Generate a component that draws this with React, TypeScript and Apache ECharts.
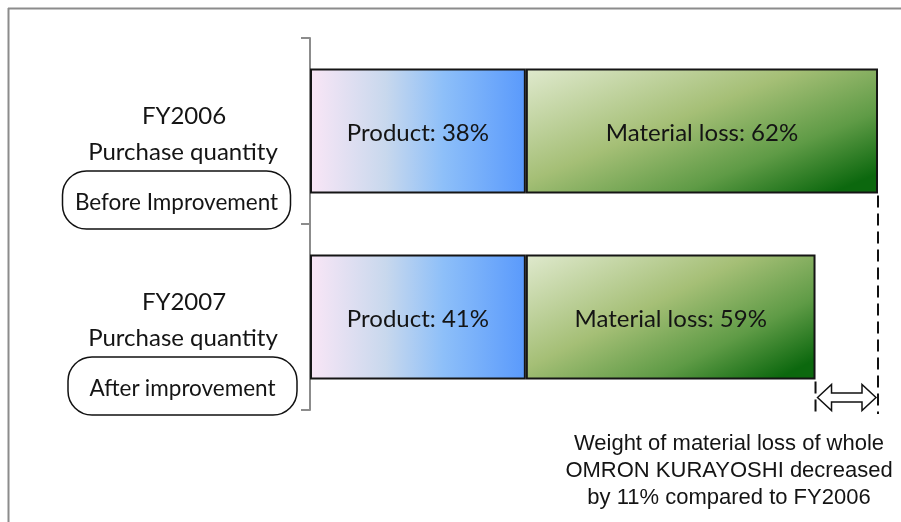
import React, { useEffect, useRef } from "react";
import * as echarts from "echarts";

const categories = ["FY2006", "FY2007"];
const subtitles = ["Purchase quantity", "Purchase quantity"];
const boxLabels = ["Before Improvement", "After improvement"];
// bar lengths as drawn (FY2006 total = 100)
const productValues = [38, 38];
const lossValues = [62, 51];
// shares printed in the bars
const productShare = [38, 41];
const lossShare = [62, 59];
const noteLines = [
  "Weight of material loss of whole",
  "OMRON KURAYOSHI decreased",
  "by 11% compared to FY2006",
];

const FONT = "Lato";
const TXT = "#141414";

export default function App() {
  const ref = useRef<HTMLDivElement>(null);
  useEffect(() => {
    if (!ref.current) return;
    const chart = echarts.init(ref.current, undefined, { renderer: "svg" });
    const productGrad = new echarts.graphic.LinearGradient(0, 0, 1, 0, [
      { offset: 0, color: "#f9e6f6" },
      { offset: 0.35, color: "#c8d8ed" },
      { offset: 0.62, color: "#8dbff9" },
      { offset: 1, color: "#5a9afc" },
    ]);
    const lossGrad = new echarts.graphic.LinearGradient(0, 0, 1, 0.85, [
      { offset: 0, color: "#dfe9cd" },
      { offset: 0.45, color: "#a5bf76" },
      { offset: 0.75, color: "#5f9b46" },
      { offset: 1, color: "#0c680e" },
    ]);
    chart.setOption({
      animation: false,
      grid: { left: 310, right: 23, top: 38, bottom: 112 },
      xAxis: { type: "value", min: 0, max: 100, show: false },
      yAxis: {
        type: "category",
        data: categories,
        inverse: true,
        axisLine: { lineStyle: { color: "#8c8c8c", width: 2 } },
        axisTick: { show: true, length: 9, lineStyle: { color: "#8c8c8c", width: 2 } },
        axisLabel: { show: false },
        splitLine: { show: false },
      },
      series: [
        {
          name: "Product",
          type: "bar",
          stack: "t",
          barWidth: 125,
          data: productValues,
          itemStyle: { color: productGrad, borderColor: "#151515", borderWidth: 2 },
          label: {
            show: true,
            position: "inside",
            fontFamily: FONT,
            fontSize: 24,
            color: TXT,
            formatter: (p: any) => `Product: ${productShare[p.dataIndex]}%`,
          },
        },
        {
          name: "Material loss",
          type: "bar",
          stack: "t",
          barWidth: 125,
          data: lossValues,
          itemStyle: { color: lossGrad, borderColor: "#151515", borderWidth: 2 },
          label: {
            show: true,
            position: "inside",
            fontFamily: FONT,
            fontSize: 24,
            color: TXT,
            formatter: (p: any) => `Material loss: ${lossShare[p.dataIndex]}%`,
          },
        },
      ],
    });

    const half = 62.5;
    const elements: any[] = [];
    // frame
    elements.push({ type: "line", shape: { x1: 8, y1: 8.5, x2: 901, y2: 8.5 }, style: { stroke: "#8c8c8c", lineWidth: 2 } });
    elements.push({ type: "line", shape: { x1: 8.5, y1: 8, x2: 8.5, y2: 522 }, style: { stroke: "#8c8c8c", lineWidth: 2 } });

    const boxX = [62.5, 68];
    const boxW = [228, 229];
    categories.forEach((c, i) => {
      const [, cy] = chart.convertToPixel({ gridIndex: 0 }, [0, c]) as number[];
      elements.push({
        type: "text",
        x: 184, y: cy - 17,
        style: { text: c, fontFamily: FONT, fontSize: 24, fill: TXT, align: "center", verticalAlign: "middle" },
      });
      elements.push({
        type: "text",
        x: 183, y: cy + 19,
        style: { text: subtitles[i], fontFamily: FONT, fontSize: 24, fill: TXT, align: "center", verticalAlign: "middle" },
      });
      elements.push({
        type: "rect",
        shape: { x: boxX[i], y: cy + 40, width: boxW[i], height: 58, r: 24 },
        style: { fill: "none", stroke: "#111", lineWidth: 1.5 },
      });
      elements.push({
        type: "text",
        x: boxX[i] + boxW[i] / 2, y: cy + 70,
        style: { text: boxLabels[i], fontFamily: FONT, fontSize: 22.5, fill: TXT, align: "center", verticalAlign: "middle" },
      });
    });

    const [x1, cy1] = chart.convertToPixel({ gridIndex: 0 }, [productValues[0] + lossValues[0], categories[0]]) as number[];
    const [x2, cy2] = chart.convertToPixel({ gridIndex: 0 }, [productValues[1] + lossValues[1], categories[1]]) as number[];
    const dash = { stroke: "#111", lineWidth: 2, lineDash: [12, 6] };
    elements.push({ type: "line", shape: { x1: x1, y1: cy1 + half + 2, x2: x1, y2: 414 }, style: dash });
    elements.push({ type: "line", shape: { x1: x2, y1: cy2 + half + 2, x2: x2, y2: 416 }, style: dash });

    const ay = cy2 + half + 18;
    const l = x2 + 2, r = x1 - 2, hl = 14, hh = 13, sh = 4.5;
    elements.push({
      type: "polygon",
      shape: {
        points: [
          [l, ay], [l + hl, ay - hh], [l + hl, ay - sh], [r - hl, ay - sh], [r - hl, ay - hh],
          [r, ay], [r - hl, ay + hh], [r - hl, ay + sh], [l + hl, ay + sh], [l + hl, ay + hh],
        ],
      },
      style: { fill: "#fff", stroke: "#111", lineWidth: 1.5 },
      z: 10,
    });

    noteLines.forEach((t, i) => {
      elements.push({
        type: "text",
        x: 729, y: 442 + i * 27,
        style: { text: t, fontFamily: "Liberation Sans", fontSize: 22, fill: TXT, align: "center", verticalAlign: "middle" },
      });
    });

    chart.setOption({ graphic: { elements } });
    return () => chart.dispose();
  }, []);
  return <div ref={ref} style={{ position: "fixed", left: 0, top: 0, width: 901, height: 522 }} />;
}
